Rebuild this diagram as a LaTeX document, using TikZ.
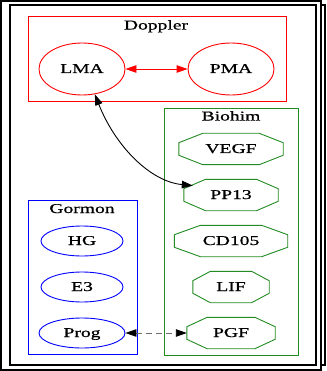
\documentclass[tikz,border=0pt]{standalone}
\usepackage{fontspec}
\setmainfont{Liberation Serif}[FakeStretch=1.45,FakeBold=0.8]
\usetikzlibrary{arrows.meta, shapes.geometric, calc}
\definecolor{gvgreen}{RGB}{34,139,34}

\begin{document}
\begin{tikzpicture}[x=1pt,y=-1pt,font=\fontsize{13.5}{15}\selectfont,
    every node/.style={inner sep=0pt, text height=9.5pt, text depth=1.5pt},
    redell/.style={draw=red, line width=0.9pt, ellipse, minimum width=86pt, minimum height=52pt},
    blueell/.style={draw=blue, line width=0.9pt, ellipse, minimum width=#1, minimum height=30pt},
    greenoct/.style={minimum width=#1, minimum height=31pt},
    gvtip/.tip={Triangle[length=11pt,width=7.5pt]}]
    \useasboundingbox (0,0) rectangle (326,371);
    \draw[line width=1.2pt] (1,1) rectangle (321,370);
    \draw[line width=1.2pt] (321,5) -- (325,5) -- (325,365) -- (321,365);
    \draw[line width=1.2pt] (10,5) rectangle (316,365);
    \draw[red, line width=0.9pt]     (28,16)  rectangle (286,101);
    \draw[gvgreen, line width=0.9pt] (164,108) rectangle (298,355);
    \draw[blue, line width=0.9pt]    (28,200) rectangle (137,354);
    \node[anchor=base] (doppler) at (156,29.5) {Doppler};
    \node[anchor=base] (biohim) at (231,120.5) {Biohim};
    \node[anchor=base] (gormon) at (82,213) {Gormon};
    \node[redell] (lma) at (82,69) {LMA};
    \node[redell] (pma) at (231,69) {PMA};
    \node[greenoct=104pt] (vegf) at (231,149) {VEGF};
    \node[greenoct=94pt] (pp13) at (231,195) {PP13};
    \node[greenoct=113pt] (cd105) at (231,241) {CD105};
    \node[greenoct=76pt] (lif) at (231,287) {LIF};
    \node[greenoct=88pt] (pgf) at (231,333) {PGF};
    \foreach \n in {vegf,pp13,cd105,lif,pgf}
        \draw[gvgreen, line width=0.9pt]
            ($(\n.west)!0.4!(\n.north west)$) -- ($(\n.north west)!0.23!(\n.north east)$)
            -- ($(\n.north east)!0.23!(\n.north west)$) -- ($(\n.east)!0.4!(\n.north east)$)
            -- ($(\n.east)!0.4!(\n.south east)$) -- ($(\n.south east)!0.23!(\n.south west)$)
            -- ($(\n.south west)!0.23!(\n.south east)$) -- ($(\n.west)!0.4!(\n.south west)$) -- cycle;
    \node[blueell=82pt] (hg) at (82,241) {HG};
    \node[blueell=82pt] (ethree) at (82,287) {E3};
    \node[blueell=86pt] (prog) at (82,333) {Prog};
    \coordinate (pp13in) at ($(pp13.west)!0.6!(pp13.north west)+(9,0)$);
    \draw[red, line width=0.9pt, {gvtip}-{gvtip}] (lma) -- (pma);
    \draw[line width=0.9pt, {gvtip}-{gvtip}] (lma.-63) .. controls +(20,51) and +(-43,-4) .. (pp13in);
    \draw[gray!85!black, line width=0.9pt, dash pattern=on 6pt off 4pt,
        {gvtip[color=black]}-{gvtip[color=black]}] (prog) -- (pgf.west);
\end{tikzpicture}
\end{document}
